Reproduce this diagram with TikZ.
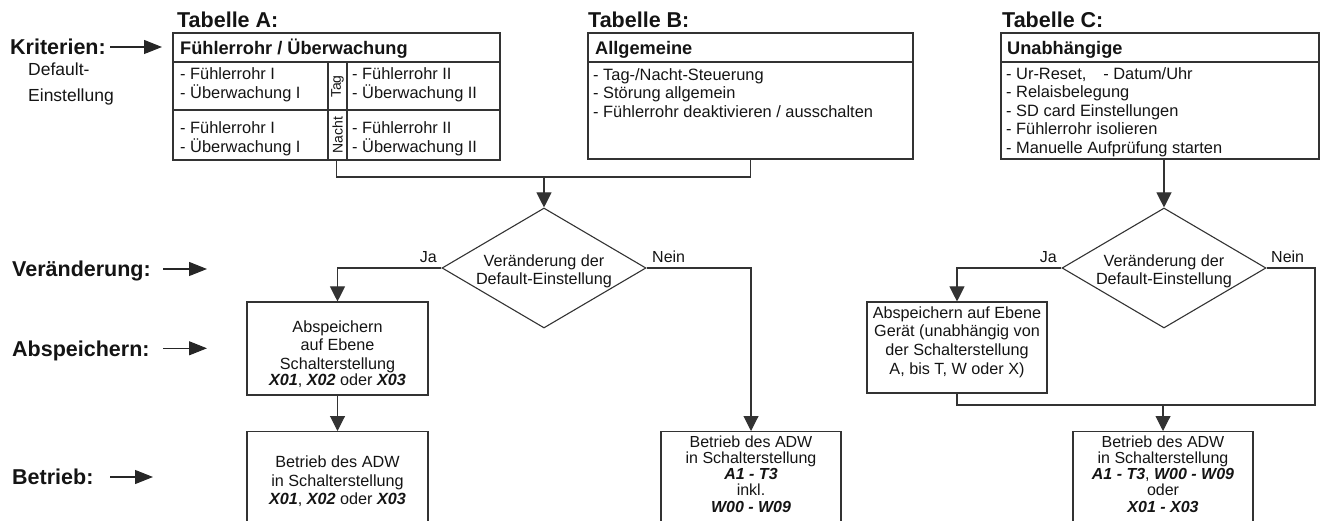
\documentclass[tikz,border=0pt]{standalone}
\usepackage{fontspec}
\setmainfont{Liberation Sans}
\usetikzlibrary{arrows.meta,shapes.geometric}
\newcommand\bix[1]{\textbf{\textit{#1}}}
\newcommand\tstr{\rule{0pt}{16pt}}
\begin{document}
\begin{tikzpicture}[x=1pt,y=-1pt,
  every node/.style={text=black!92},
  ln/.style={line width=1.1pt, draw=black!80},
  arr/.style={ln, -{Triangle[length=15pt,width=15pt]}},
  larr/.style={line width=1.1pt, draw=black!85, -{Triangle[length=18pt,width=14pt]}},
  lab/.style={font=\fontsize{21.5}{24}\selectfont\bfseries, inner sep=0pt, text height=15.4pt, text depth=0pt, anchor=base west},
  ttl/.style={font=\fontsize{21.5}{24}\selectfont\bfseries, inner sep=0pt, anchor=base west},
  hdr/.style={font=\fontsize{18.2}{22}\selectfont\bfseries, inner sep=0pt, anchor=base west},
  tb/.style={font=\fontsize{16.4}{18.5}\selectfont\lineskiplimit-30pt\relax, inner sep=0pt, anchor=north west, align=left},
  fc/.style={font=\fontsize{16.2}{18.7}\selectfont\lineskiplimit-30pt\relax, inner sep=0pt, anchor=north, align=center},
  fcs/.style={font=\fontsize{16}{16.2}\selectfont\lineskiplimit-30pt\relax, inner sep=0pt, anchor=north, align=center},
  yn/.style={font=\fontsize{16}{18}\selectfont, inner sep=0pt},
  vt/.style={font=\fontsize{14}{16}\selectfont, inner sep=0pt, rotate=90},
  box/.style={ln, rectangle, inner sep=0pt},
  dia/.style={ln, diamond, aspect=1.7, inner sep=0pt, minimum width=204pt, minimum height=120pt},
]
\useasboundingbox (0,0) rectangle (1325,521);
\clip (0,0) rectangle (1325,521);

% ---------- left labels ----------
\node[lab] (lk) at (10,54.7) {Kriterien:};
\node[tb, font=\fontsize{17.5}{26}\selectfont] (ld) at (28,59) {\tstr Default-\\Einstellung};
\node[lab] (lv) at (12,276.7) {Veränderung:};
\node[lab] (la) at (12,356) {Abspeichern:};
\node[lab] (lb) at (12,484.7) {Betrieb:};
\coordinate (ka) at (110,47);  \coordinate (kb) at (162,47);
\coordinate (va) at (163,269); \coordinate (vb) at (207,269);
\coordinate (aa) at (163,348); \coordinate (ab) at (207,348);
\coordinate (ba) at (110,477); \coordinate (bb) at (153,477);
\draw[larr] (lk.east -| ka) -- (lk.east -| kb);
\draw[larr] (lv.east -| va) -- (lv.east -| vb);
\draw[larr] (la.east -| aa) -- (la.east -| ab);
\draw[larr] (lb.east -| ba) -- (lb.east -| bb);

% ---------- titles ----------
\node[ttl] (tA) at (177,27.5) {Tabelle A:};
\node[ttl] (tB) at (588,27.5) {Tabelle B:};
\node[ttl] (tC) at (1002,27.5) {Tabelle C:};

% ---------- Tabelle A ----------
\node[box, minimum width=327pt, minimum height=127pt] (tabA) at (336.5,96.5) {};
\draw[ln] (173,62) -- (500,62);
\draw[ln] (173,110) -- (500,110);
\draw[ln] (328,62) -- (328,160);
\draw[ln] (347,62) -- (347,160);
\node[hdr] (hA) at (180,54.5) {Fühlerrohr / Überwachung};
\node[tb] (a11) at (180,63.5) {\tstr - Fühlerrohr I\\- Überwachung I};
\node[tb] (a12) at (352,63.5) {\tstr - Fühlerrohr II\\- Überwachung II};
\node[tb] (a21) at (180,117.5) {\tstr - Fühlerrohr I\\- Überwachung I};
\node[tb] (a22) at (352,117.5) {\tstr - Fühlerrohr II\\- Überwachung II};
\node[vt] (tag) at (337.5,86.7) {Tag};
\node[vt] (nacht) at (337.5,135) {Nacht};

% ---------- Tabelle B ----------
\node[box, minimum width=325pt, minimum height=126pt] (tabB) at (750.5,96) {};
\draw[ln] (588,62) -- (913,62);
\node[hdr] (hB) at (595,54.5) {Allgemeine};
\node[tb] (bbody) at (593,64) {\tstr - Tag-/Nacht-Steuerung\\- Störung allgemein\\- Fühlerrohr deaktivieren / ausschalten};

% ---------- Tabelle C ----------
\node[box, minimum width=318pt, minimum height=126pt] (tabC) at (1160,96) {};
\draw[ln] (1001,62) -- (1319,62);
\node[hdr] (hC) at (1007,54.5) {Unabhängige};
\node[tb] (cbody) at (1006,63.3) {\tstr - Ur-Reset,\hspace{17pt}- Datum/Uhr\\- Relaisbelegung\\- SD card Einstellungen\\- Fühlerrohr isolieren\\- Manuelle Aufprüfung starten};

% ---------- left flow ----------
\coordinate (m1) at (544,177);
\node[dia] (dia1) at (544,268) {};
\node[fc] (d1t) at (544,250) {\tstr Veränderung der\\Default-Einstellung};
\node[box, minimum width=181pt, minimum height=93pt] (abs1) at (337.5,348.5) {};
\node[fc] (a1t) at (337.5,316) {\tstr Abspeichern\\auf Ebene\\Schalterstellung\\[-2.5pt]\bix{X01}, \bix{X02} oder \bix{X03}};
\node[box, minimum width=181pt, minimum height=130pt, anchor=north] (bet1) at (337.5,431) {};
\node[fc] (b1t) at (337.5,451.3) {\tstr Betrieb des ADW\\in Schalterstellung\\\bix{X01}, \bix{X02} oder \bix{X03}};
\node[box, minimum width=180pt, minimum height=130pt, anchor=north] (bet2) at (751,431) {};
\node[fcs] (b2t) at (751,431) {\tstr Betrieb des ADW\\in Schalterstellung\\\bix{A1 - T3}\\inkl.\\\bix{W00 - W09}};
\node[yn, anchor=base east] (ja1) at (437,263) {Ja};
\node[yn, anchor=base west] (ne1) at (652,263) {Nein};

% ---------- right flow ----------
\node[dia] (dia2) at (1164,268) {};
\node[fc] (d2t) at (1164,250) {\tstr Veränderung der\\Default-Einstellung};
\node[box, minimum width=180pt, minimum height=91pt] (abs2) at (957,347.5) {};
\node[fc] (a2t) at (957,302) {\tstr Abspeichern auf Ebene\\Gerät (unabhängig von\\der Schalterstellung\\A, bis T, W oder X)};
\coordinate (j2) at (1163,405);
\coordinate (nr) at (1315,268);
\node[box, minimum width=180pt, minimum height=130pt, anchor=north] (bet3) at (1163,431) {};
\node[fcs] (b3t) at (1163,431) {\tstr Betrieb des ADW\\in Schalterstellung\\\bix{A1 - T3}, \bix{W00 - W09}\\oder\\\bix{X01 - X03}};
\node[yn, anchor=base east] (ja2) at (1057,263) {Ja};
\node[yn, anchor=base west] (ne2) at (1271,263) {Nein};

% ---------- connectors ----------
\draw[ln] (tabA.south) |- (m1) -| (tabB.south);
\draw[arr] (m1) -- (dia1.north);
\draw[arr] (dia1.west) -| (abs1.north);
\draw[arr] (abs1.south) -- (bet1.north);
\draw[arr] (dia1.east) -| (bet2.north);
\draw[arr] (tabC.south -| dia2.north) -- (dia2.north);
\draw[arr] (dia2.west) -| (abs2.north);
\draw[ln] (dia2.east) -- (nr) |- (abs2.south |- j2) -- (abs2.south);
\draw[arr] (j2) -- (bet3.north);
\end{tikzpicture}
\end{document}
